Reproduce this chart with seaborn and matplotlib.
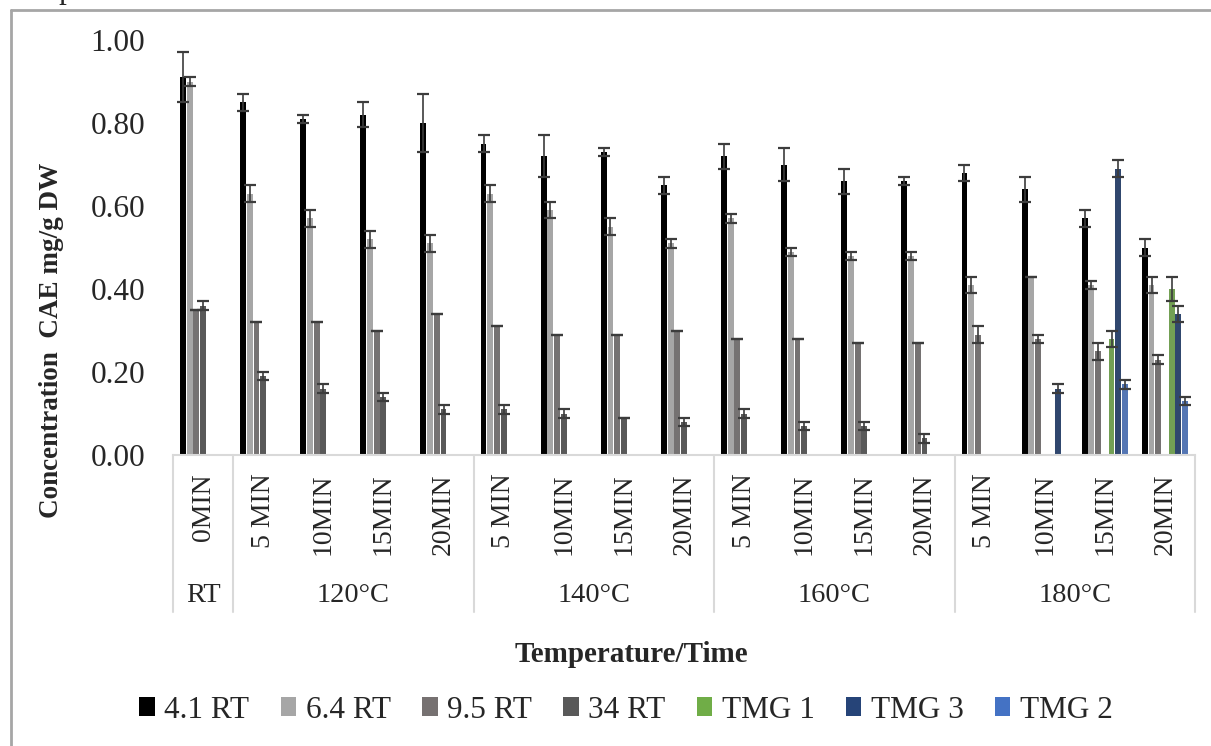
import numpy as np
import pandas as pd
import matplotlib
matplotlib.use("Agg")
import matplotlib.pyplot as plt
import seaborn as sns
from matplotlib.lines import Line2D
from matplotlib.patches import Patch
import matplotlib.transforms as mtransforms

# ---------------- data ----------------
groups = ["RT", "120°C", "140°C", "160°C", "180°C"]
group_sizes = [1, 4, 4, 4, 4]
time_labels = ["0MIN",
               "5 MIN", "10MIN", "15MIN", "20MIN",
               "5 MIN", "10MIN", "15MIN", "20MIN",
               "5 MIN", "10MIN", "15MIN", "20MIN",
               "5 MIN", "10MIN", "15MIN", "20MIN"]

series_names = ["4.1 RT", "6.4 RT", "9.5 RT", "34 RT", "TMG 1", "TMG 3", "TMG 2"]
series_colors = ["#000000", "#a6a6a6", "#767171", "#595959", "#70ad47", "#264478", "#4472c4"]

N = None
v_41 = [0.91, 0.85, 0.81, 0.82, 0.80, 0.75, 0.72, 0.73, 0.65, 0.72, 0.70, 0.66, 0.66, 0.68, 0.64, 0.57, 0.50]
e_41 = [0.06, 0.02, 0.01, 0.03, 0.07, 0.02, 0.05, 0.01, 0.02, 0.03, 0.04, 0.03, 0.01, 0.02, 0.03, 0.02, 0.02]
v_64 = [0.90, 0.63, 0.57, 0.52, 0.51, 0.63, 0.59, 0.55, 0.51, 0.57, 0.49, 0.48, 0.48, 0.41, 0.43, 0.41, 0.41]
e_64 = [0.01, 0.02, 0.02, 0.02, 0.02, 0.02, 0.02, 0.02, 0.01, 0.01, 0.01, 0.01, 0.01, 0.02, 0.00, 0.01, 0.02]
v_95 = [0.35, 0.32, 0.32, 0.30, 0.34, 0.31, 0.29, 0.29, 0.30, 0.28, 0.28, 0.27, 0.27, 0.29, 0.28, 0.25, 0.23]
e_95 = [0.00, 0.00, 0.00, 0.00, 0.00, 0.00, 0.00, 0.00, 0.00, 0.00, 0.00, 0.00, 0.00, 0.02, 0.01, 0.02, 0.01]
v_34 = [0.36, 0.19, 0.16, 0.14, 0.11, 0.11, 0.10, 0.09, 0.08, 0.10, 0.07, 0.07, 0.04, 0.0, 0.0, 0.0, 0.0]
e_34 = [0.01, 0.01, 0.01, 0.01, 0.01, 0.01, 0.01, 0.00, 0.01, 0.01, 0.01, 0.01, 0.01, N, N, N, N]
v_t1 = [0.0] * 15 + [0.28, 0.40]
e_t1 = [N] * 15 + [0.02, 0.03]
v_t3 = [0.0] * 14 + [0.16, 0.69, 0.34]
e_t3 = [N] * 14 + [0.01, 0.02, 0.02]
v_t2 = [0.0] * 15 + [0.17, 0.13]
e_t2 = [N] * 15 + [0.01, 0.01]

values = [v_41, v_64, v_95, v_34, v_t1, v_t3, v_t2]
errors = [e_41, e_64, e_95, e_34, e_t1, e_t3, e_t2]

# category keys (unique)
group_of_cat = [g for g, n in zip(groups, group_sizes) for _ in range(n)]
cat_keys = [f"{g}|{t}" for g, t in zip(group_of_cat, time_labels)]

rows = []
for s, vals in zip(series_names, values):
    for k, v in zip(cat_keys, vals):
        rows.append({"cat": k, "series": s, "value": v})
df = pd.DataFrame(rows)

# ---------------- style ----------------
sns.set_style("white")
plt.rcParams["font.family"] = ["Liberation Serif", "DejaVu Serif"]

W, H = 1211, 746
fig = plt.figure(figsize=(W / 100, H / 100), dpi=100)
ax_left, ax_right = 173 / W, 1195 / W
ax_top, ax_bot = 1 - 40 / H, 1 - 455 / H
ax = fig.add_axes([ax_left, ax_bot, ax_right - ax_left, ax_top - ax_bot])

sns.barplot(data=df, x="cat", y="value", hue="series", order=cat_keys,
            hue_order=series_names, palette=series_colors, errorbar=None,
            width=0.78, gap=0.12, linewidth=0, legend=False, ax=ax)

# error bars
for cont, errs in zip(ax.containers, errors):
    xs, ys, es = [], [], []
    for bar, e in zip(cont, errs):
        if e is None:
            continue
        xs.append(bar.get_x() + bar.get_width() / 2)
        ys.append(bar.get_height())
        es.append(e)
    ax.errorbar(xs, ys, yerr=es, fmt="none", ecolor="#3c3c3c", elinewidth=1.2,
                capsize=4.5, capthick=1.6, zorder=5)

ax.set_ylim(0, 1.0)
ax.set_xlim(-0.5, len(cat_keys) - 0.5)
ax.set_yticks(np.arange(0, 1.01, 0.2))
ax.set_yticklabels([f"{v:.2f}" for v in np.arange(0, 1.01, 0.2)], fontsize=22.5)
ax.set_xticks(range(len(cat_keys)))
ax.set_xticklabels(time_labels, rotation=90, fontsize=20, va="top", ha="center")
ax.tick_params(axis="x", length=0, pad=13)
ax.tick_params(axis="y", length=0, pad=20)
ax.set_xlabel("")
ax.set_ylabel("")
ax.grid(False)
for sp in ["left", "right", "top"]:
    ax.spines[sp].set_visible(False)
ax.spines["bottom"].set_color("#d9d9d9")
ax.spines["bottom"].set_linewidth(1.5)

# multi-level category table
trans = mtransforms.blended_transform_factory(ax.transData, ax.transAxes)
y_line_bottom = (455 - 612) / 415
bounds = [-0.5]
for n in group_sizes:
    bounds.append(bounds[-1] + n)
for b in bounds:
    ax.add_line(Line2D([b, b], [0, y_line_bottom], transform=trans, color="#d9d9d9",
                       linewidth=1.5, clip_on=False))
for g, a, b in zip(groups, bounds[:-1], bounds[1:]):
    ax.text((a + b) / 2, (455 - 595) / 415, g, transform=trans, ha="center",
            va="center", fontsize=20.5)

# axis titles
fig.text(631 / W, 1 - 654 / H, "Temperature/Time", ha="center", va="center",
         fontsize=21, fontweight="bold")
fig.text(52 / W, 1 - 340 / H, "Concentration  CAE mg/g DW", ha="center", va="center",
         rotation=90, fontsize=19.5, fontweight="bold")

# legend
handles = [Patch(facecolor=c, edgecolor="none", label=s)
           for s, c in zip(series_names, series_colors)]
fig.legend(handles=handles, loc="center", bbox_to_anchor=(626 / W, 1 - 710 / H),
           ncol=7, frameon=False, fontsize=22.5, handlelength=0.5, handleheight=0.55,
           handletextpad=0.3, columnspacing=1.0, borderaxespad=0)

# outer frame and cropped caption
fig.add_artist(Line2D([11 / W, 1.0], [1 - 10 / H, 1 - 10 / H], transform=fig.transFigure,
                      color="#a6a6a6", linewidth=2))
fig.add_artist(Line2D([11 / W, 11 / W], [0, 1 - 10 / H], transform=fig.transFigure,
                      color="#a6a6a6", linewidth=2))
fig.text(58 / W, 1 + 2 / H, "p", ha="left", va="baseline", fontsize=22.5)

fig.savefig("out.png", dpi=100)
